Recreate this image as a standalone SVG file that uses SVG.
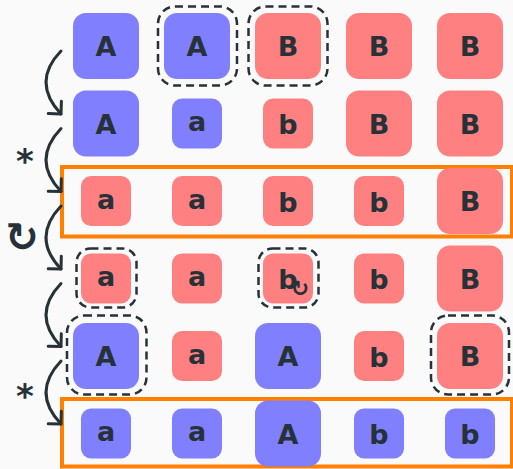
<svg xmlns="http://www.w3.org/2000/svg" width="513" height="469" viewBox="0 0 513 469">
<defs>
<style>
.bg{fill:#fafafa}
.blue{fill:#8080ff}
.red{fill:#ff8080}
.dash{fill:none;stroke:#263238;stroke-width:2.5;stroke-dasharray:8 5}
.orange{fill:none;stroke:#ff7f00;stroke-width:4}
.L{font-family:"DejaVu Sans",sans-serif;font-weight:bold;font-size:27px;fill:#263238;text-anchor:middle}
.sym{font-family:"DejaVu Sans",sans-serif;font-weight:bold;fill:#263238;text-anchor:middle}
.arr{fill:none;stroke:#263238;stroke-width:3;stroke-linecap:round}
</style>
<marker id="ah" markerUnits="userSpaceOnUse" markerWidth="24" markerHeight="24" viewBox="-12 -12 24 24" refX="0" refY="0" orient="auto">
<path d="M-9,-9 L0,0 L-9,9" fill="none" stroke="#263238" stroke-width="3" stroke-linecap="round" stroke-linejoin="round"/>
</marker>
</defs>
<rect class="bg" x="0" y="0" width="513" height="469"/>

<g id="frames">
<rect id="frame-row3" class="orange" x="62" y="167" width="450" height="69.5"/>
<rect id="frame-row6" class="orange" x="62" y="399" width="450" height="67.5"/>
</g>

<g id="connectors">
<path class="arr" d="M61,51 Q31,82 61,114" marker-end="url(#ah)"/>
<path class="arr" d="M61,128.5 Q31,160 61,191.5" marker-end="url(#ah)"/>
<path class="arr" d="M61,206 Q31,237.5 61,269" marker-end="url(#ah)"/>
<path class="arr" d="M61,283.5 Q31,315 61,346.5" marker-end="url(#ah)"/>
<path class="arr" d="M61,361 Q31,392.5 61,424" marker-end="url(#ah)"/>
</g>

<g id="labels">
<text class="sym" x="25" y="173" font-size="34">*</text>
<text class="sym" x="25" y="408" font-size="34">*</text>
<text class="sym" x="22" y="251" font-size="40">↻</text>
</g>

<!-- Row 1 -->
<g id="r1c1"><rect class="blue" x="73" y="13" width="66" height="66" rx="13"/><text class="L" x="106" y="56">A</text></g>
<g id="r1c2"><rect class="blue" x="164" y="13" width="66" height="66" rx="13"/><text class="L" x="197" y="56">A</text><rect class="dash" x="158" y="6.5" width="79" height="79" rx="17"/></g>
<g id="r1c3"><rect class="red" x="255" y="13" width="66" height="66" rx="13"/><text class="L" x="288" y="56">B</text><rect class="dash" x="248.5" y="6.5" width="79" height="79" rx="17"/></g>
<g id="r1c4"><rect class="red" x="346" y="13" width="66" height="66" rx="13"/><text class="L" x="379" y="56">B</text></g>
<g id="r1c5"><rect class="red" x="437" y="13" width="66" height="66" rx="13"/><text class="L" x="470" y="56">B</text></g>

<!-- Row 2 -->
<g id="r2c1"><rect class="blue" x="73" y="90.5" width="66" height="66" rx="13"/><text class="L" x="106" y="133.5">A</text></g>
<g id="r2c2"><rect class="blue" x="172" y="98.5" width="50" height="50" rx="10"/><text class="L" x="197" y="131">a</text></g>
<g id="r2c3"><rect class="red" x="263" y="98.5" width="50" height="50" rx="10"/><text class="L" x="288" y="134">b</text></g>
<g id="r2c4"><rect class="red" x="346" y="90.5" width="66" height="66" rx="13"/><text class="L" x="379" y="133.5">B</text></g>
<g id="r2c5"><rect class="red" x="437" y="90.5" width="66" height="66" rx="13"/><text class="L" x="470" y="133.5">B</text></g>

<!-- Row 3 -->
<g id="r3c1"><rect class="red" x="81" y="176" width="50" height="50" rx="10"/><text class="L" x="106" y="208.5">a</text></g>
<g id="r3c2"><rect class="red" x="172" y="176" width="50" height="50" rx="10"/><text class="L" x="197" y="208.5">a</text></g>
<g id="r3c3"><rect class="red" x="263" y="176" width="50" height="50" rx="10"/><text class="L" x="288" y="211.5">b</text></g>
<g id="r3c4"><rect class="red" x="354" y="176" width="50" height="50" rx="10"/><text class="L" x="379" y="211.5">b</text></g>
<g id="r3c5"><rect class="red" x="437" y="168" width="66" height="66" rx="13"/><text class="L" x="470" y="211">B</text></g>

<!-- Row 4 -->
<g id="r4c1"><rect class="red" x="81" y="253.5" width="50" height="50" rx="10"/><text class="L" x="106" y="286">a</text><rect class="dash" x="76.5" y="248.5" width="60" height="59" rx="14"/></g>
<g id="r4c2"><rect class="red" x="172" y="253.5" width="50" height="50" rx="10"/><text class="L" x="197" y="286">a</text></g>
<g id="r4c3"><rect class="red" x="263" y="253.5" width="50" height="50" rx="10"/><text class="L" x="288" y="289">b</text><text class="sym" x="300" y="296" font-size="22">↻</text><rect class="dash" x="258.5" y="248.5" width="60" height="59" rx="14"/></g>
<g id="r4c4"><rect class="red" x="354" y="253.5" width="50" height="50" rx="10"/><text class="L" x="379" y="289">b</text></g>
<g id="r4c5"><rect class="red" x="437" y="245.5" width="66" height="66" rx="13"/><text class="L" x="470" y="288.5">B</text></g>

<!-- Row 5 -->
<g id="r5c1"><rect class="blue" x="73" y="323" width="66" height="66" rx="13"/><text class="L" x="106" y="366">A</text><rect class="dash" x="67" y="315.5" width="79.5" height="79" rx="17"/></g>
<g id="r5c2"><rect class="red" x="172" y="331" width="50" height="50" rx="10"/><text class="L" x="197" y="363.5">a</text></g>
<g id="r5c3"><rect class="blue" x="255" y="323" width="66" height="66" rx="13"/><text class="L" x="288" y="366">A</text></g>
<g id="r5c4"><rect class="red" x="354" y="331" width="50" height="50" rx="10"/><text class="L" x="379" y="366.5">b</text></g>
<g id="r5c5"><rect class="red" x="437" y="323" width="66" height="66" rx="13"/><text class="L" x="470" y="366">B</text><rect class="dash" x="431" y="315.5" width="78" height="79" rx="17"/></g>

<!-- Row 6 -->
<g id="r6c1"><rect class="blue" x="81" y="408.5" width="50" height="50" rx="10"/><text class="L" x="106" y="441">a</text></g>
<g id="r6c2"><rect class="blue" x="172" y="408.5" width="50" height="50" rx="10"/><text class="L" x="197" y="441">a</text></g>
<g id="r6c3"><rect class="blue" x="255" y="400.5" width="66" height="66" rx="13"/><text class="L" x="288" y="443.5">A</text></g>
<g id="r6c4"><rect class="blue" x="354" y="408.5" width="50" height="50" rx="10"/><text class="L" x="379" y="444">b</text></g>
<g id="r6c5"><rect class="blue" x="445" y="408.5" width="50" height="50" rx="10"/><text class="L" x="470" y="444">b</text></g>
</svg>
